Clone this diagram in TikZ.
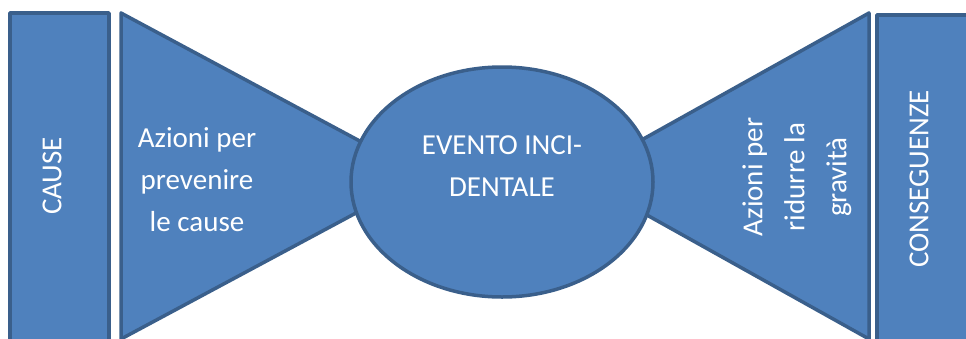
\documentclass[tikz,border=0pt]{standalone}
\usepackage{fontspec}
\setmainfont{Carlito}
\usetikzlibrary{positioning}
\definecolor{bowfill}{HTML}{4F81BD}
\definecolor{bowline}{HTML}{3A5F8B}
\tikzset{
  bowpart/.style={fill=bowfill,draw=bowline,line width=3.5pt,line join=round},
  bowtext/.style={text=white,font=\fontsize{29}{42}\selectfont,align=center,inner sep=0pt}
}

\begin{document}
\begin{tikzpicture}[x=1pt,y=-1pt]
  \useasboundingbox (0,0) rectangle (966,338);
  \clip (0,0) rectangle (966,338);

  % the two wings of the bow tie
  \draw[bowpart] (121,13) -- (425,176) -- (121,339) -- cycle;
  \draw[bowpart] (869,13) -- (577,176) -- (869,339) -- cycle;

  % central event
  \draw[bowpart] (502,182) ellipse [x radius=151, y radius=115];

  % side columns
  \draw[bowpart] (10,13) rectangle (109,360);
  \draw[bowpart] (877,15) rectangle (990,360);

  \node[bowtext,rotate=90] (cause) at (52,176) {CAUSE};
  \node[bowtext] (prevent) at (197,180) {Azioni per\\prevenire\\le cause};
  \node[bowtext] (event) at (502,166) {EVENTO INCI-\\DENTALE};
  \node[bowtext,rotate=90] (reduce) at (797,177) {Azioni per\\ridurre la\\gravità};
  \node[bowtext,rotate=90] (effects) at (919,179) {CONSEGUENZE};
\end{tikzpicture}
\end{document}
